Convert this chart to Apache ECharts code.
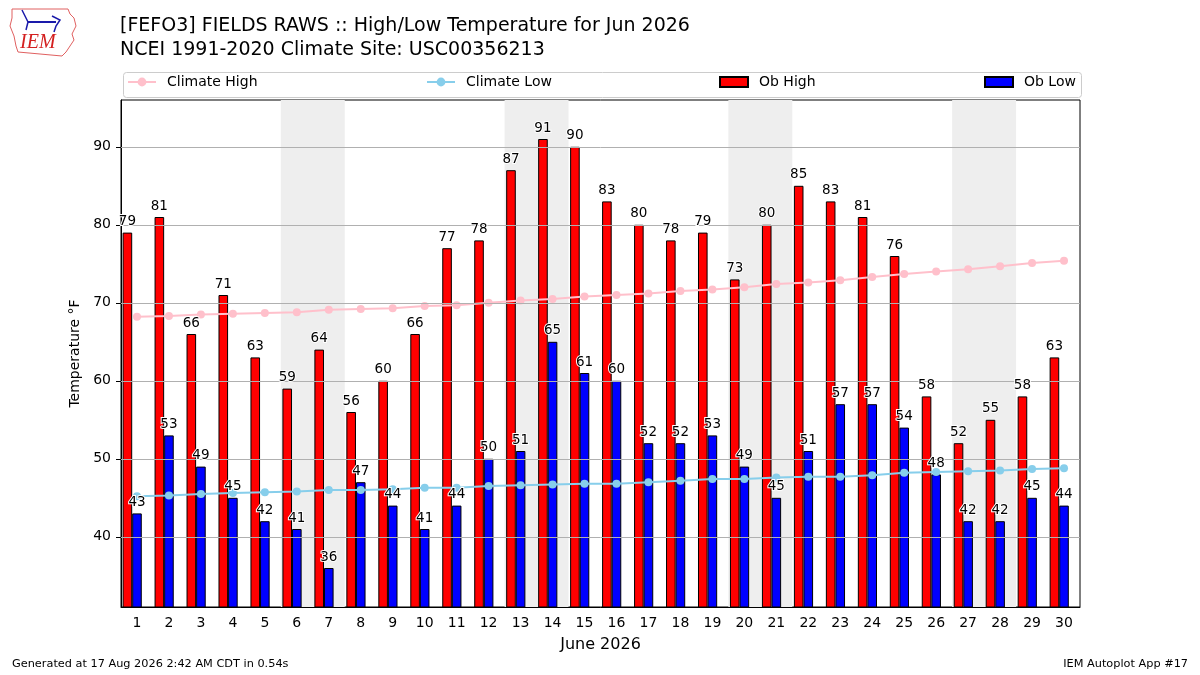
<!DOCTYPE html>
<html>
<head>
<meta charset="utf-8">
<script src="https://cdn.jsdelivr.net/npm/echarts@6/dist/echarts.min.js"></script>
<style>html,body{margin:0;padding:0;background:#fff}#c{width:1200px;height:675px}</style>
</head>
<body>
<div id="c"></div>
<script>
const days = ['1','2','3','4','5','6','7','8','9','10','11','12','13','14','15','16','17','18','19','20','21','22','23','24','25','26','27','28','29','30'];
const obHigh = [79,81,66,71,63,59,64,56,60,66,77,78,87,91,90,83,80,78,79,73,80,85,83,81,76,58,52,55,58,63];
const obLow = [43,53,49,45,42,41,36,47,44,41,44,50,51,65,61,60,52,52,53,49,45,51,57,57,54,48,42,42,45,44];
const climateHigh = [68.2,68.3,68.5,68.6,68.7,68.8,69.1,69.2,69.3,69.6,69.7,70.0,70.3,70.5,70.8,71.0,71.2,71.5,71.7,72.0,72.4,72.6,72.9,73.3,73.7,74.0,74.3,74.7,75.1,75.4];
const climateLow = [45.2,45.3,45.5,45.6,45.7,45.8,46.0,46.0,46.1,46.3,46.3,46.5,46.6,46.7,46.8,46.8,47.0,47.2,47.4,47.4,47.6,47.7,47.7,47.9,48.2,48.3,48.4,48.5,48.7,48.8];
const weekends = [[6,7],[13,14],[20,21],[27,28]];
const yTicks = [40,50,60,70,80,90];
const titleText = '[FEFO3] FIELDS RAWS :: High/Low Temperature for Jun 2026\nNCEI 1991-2020 Climate Site: USC00356213';
const footerLeft = 'Generated at 17 Aug 2026 2:42 AM CDT in 0.54s';
const footerRight = 'IEM Autoplot App #17';

const FONT = 'DejaVu Sans';
const chart = echarts.init(document.getElementById('c'));

const labelStyle = {show:true, position:'top', distance:4, color:'#000', fontSize:13.5, fontFamily:FONT, textBorderColor:'#fff', textBorderWidth:2};
const emptySlot = days.map(() => null);

function legendAt(name, left, isBar){
  const l = {data:[name], left:left, top:75, itemWidth:28, itemHeight:isBar?10:11, itemGap:0,
    textStyle:{fontFamily:FONT, fontSize:14, color:'#000', padding:[0,0,0,6]}, padding:0, selectedMode:false};
  if (isBar) l.icon = 'rect';
  return l;
}

const option = {
  animation:false,
  backgroundColor:'#fff',
  textStyle:{fontFamily:FONT},
  title:{text:titleText, left:120, top:14, padding:0, textStyle:{fontFamily:FONT, fontSize:19, fontWeight:'normal', color:'#000', lineHeight:24}},
  legend:[legendAt('Climate High',127,false), legendAt('Climate Low',426,false), legendAt('Ob High',719,true), legendAt('Ob Low',984,true)],
  grid:{left:121, right:120, top:100, bottom:68, show:true, borderColor:'#000', borderWidth:1, backgroundColor:'transparent'},
  xAxis:[
    {type:'category', data:days, boundaryGap:true,
     name:'June 2026', nameLocation:'middle', nameGap:30, nameTextStyle:{fontFamily:FONT, fontSize:16, color:'#000'},
     axisLine:{lineStyle:{color:'#000'}}, axisTick:{alignWithLabel:true, length:5, lineStyle:{color:'#000'}},
     axisLabel:{color:'#000', fontSize:14, fontFamily:FONT, margin:9, interval:0}, splitLine:{show:false}},
    {type:'value', min:0.5, max:30.5, show:false},
    {type:'category', data:days, show:false}
  ],
  yAxis:{type:'value', min:31, max:96,
    name:'Temperature °F', nameLocation:'middle', nameGap:38, nameRotate:90, nameTextStyle:{fontFamily:FONT, fontSize:14, color:'#000'},
    axisLine:{show:true, lineStyle:{color:'#000'}},
    axisTick:{show:true, length:5, lineStyle:{color:'#000'}, customValues:yTicks},
    axisLabel:{color:'#000', fontSize:14, fontFamily:FONT, margin:10, customValues:yTicks},
    splitLine:{show:false}},
  series:[
    {type:'line', xAxisIndex:1, data:[], silent:true, z:0,
     markArea:{silent:true, itemStyle:{color:'#eeeeee'}, data:weekends.map(w=>[{xAxis:w[0]-0.5},{xAxis:w[1]+0.5}])},
     markLine:{silent:true, symbol:'none', label:{show:false}, lineStyle:{color:'#b0b0b0', width:1, type:'solid'}, data:yTicks.map(v=>({yAxis:v}))}},
    {name:'Ob High', type:'bar', data:obHigh, barGap:'0%', barWidth:'30%', z:2,
     itemStyle:{color:'#ff0000', borderColor:'#000', borderWidth:1}},
    {name:'Ob Low', type:'bar', data:obLow, barWidth:'30%', z:2,
     itemStyle:{color:'#0000ff', borderColor:'#000', borderWidth:1}},
    {name:'slot', type:'bar', data:emptySlot, barWidth:'30%', silent:true, itemStyle:{color:'rgba(0,0,0,0)'}},
    {name:'Climate High', type:'line', data:climateHigh, z:3, symbol:'circle', symbolSize:8,
     lineStyle:{color:'#ffc0cb', width:2}, itemStyle:{color:'#ffc0cb'}},
    {name:'Climate Low', type:'line', data:climateLow, z:3, symbol:'circle', symbolSize:8,
     lineStyle:{color:'#87ceeb', width:2}, itemStyle:{color:'#87ceeb'}},
    {name:'lblHigh', type:'bar', xAxisIndex:2, data:obHigh, barGap:'0%', barWidth:'30%', z:5, silent:true,
     itemStyle:{color:'rgba(0,0,0,0)'}, label:labelStyle},
    {name:'lblLow', type:'bar', xAxisIndex:2, data:obLow, barWidth:'30%', z:5, silent:true,
     itemStyle:{color:'rgba(0,0,0,0)'}, label:labelStyle},
    {name:'slot2', type:'bar', xAxisIndex:2, data:emptySlot, barWidth:'30%', silent:true, itemStyle:{color:'rgba(0,0,0,0)'}}
  ],
  graphic:[
    {type:'rect', left:121, top:70, shape:{width:958, height:25, r:3}, style:{fill:'none', stroke:'#cccccc', lineWidth:1}, z:-1},
    {type:'text', left:12, top:659, style:{text:footerLeft, font:'11.3px "DejaVu Sans"', fill:'#000'}},
    {type:'text', right:12, top:659, style:{text:footerRight, font:'11.3px "DejaVu Sans"', fill:'#000'}},
    {type:'polyline', shape:{points:[[12,9],[68,9],[70,14],[74,18],[76,26],[72,34],[74,40],[70,46],[66,52],[62,56],[18,52],[16,46],[14,36],[10,26],[12,18],[12,9]]}, style:{stroke:'#e06060', lineWidth:1, fill:'none'}},
    {type:'text', left:20, top:33, style:{text:'IEM', font:'italic 20px "Liberation Serif"', fill:'#d42020'}},
    {type:'polyline', shape:{points:[[28,22],[56,22]]}, style:{stroke:'#1a1aaa', lineWidth:2}},
    {type:'polyline', shape:{points:[[22,10],[28,22],[26,30]]}, style:{stroke:'#1a1aaa', lineWidth:1.5, fill:'none'}},
    {type:'polyline', shape:{points:[[52,16],[60,20],[56,26],[54,32]]}, style:{stroke:'#1a1aaa', lineWidth:1.5, fill:'none'}}
  ]
};
chart.setOption(option);
</script>
</body>
</html>
